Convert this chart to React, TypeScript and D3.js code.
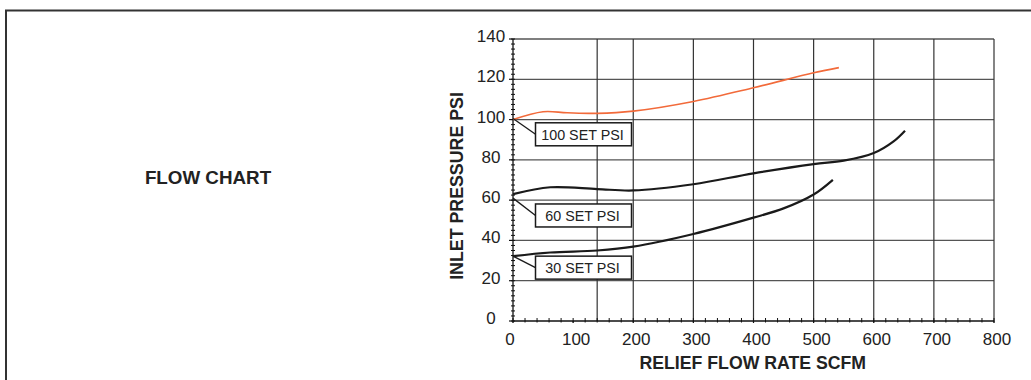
import React from "react";
import * as d3 from "d3";

const yTicks = [0, 20, 40, 60, 80, 100, 120, 140];
const xTicks = [0, 100, 200, 300, 400, 500, 600, 700, 800];
const xGrid = [140, 200, 300, 400, 500, 600, 700, 800];
const yGrid = [20, 40, 60, 80, 100, 120, 140];

const set100: [number, number][] = [
  [0, 100], [50, 103.9], [90, 103.4], [140, 103.1], [200, 104.2], [300, 109], [400, 115.8], [500, 123.2], [542, 125.8],
];
const set60: [number, number][] = [
  [0, 63], [62, 66.4], [140, 65.5], [200, 64.8], [300, 67.9], [400, 73.3], [500, 77.9], [550, 79.6], [600, 83.4], [633, 89.2], [652, 94.5],
];
const set30: [number, number][] = [
  [0, 32.2], [62, 34], [140, 35], [200, 36.9], [300, 43.2], [400, 51.3], [450, 55.9], [500, 62.8], [532, 70.1],
];

const labels = [
  { text: "100 SET PSI", anchor: 100.5, top: 98.4 },
  { text: "60 SET PSI", anchor: 61, top: 58.1 },
  { text: "30 SET PSI", anchor: 32.2, top: 32.2 },
];

export default function App() {
  const x = d3.scaleLinear().domain([0, 800]).range([513, 994]);
  const y = d3.scaleLinear().domain([0, 140]).range([321, 39]);
  const line = d3
    .line<[number, number]>()
    .x((d) => x(d[0]))
    .y((d) => y(d[1]))
    .curve(d3.curveCatmullRom.alpha(0.5));

  const xMinor = d3.range(0, 801, 20);
  const yMinor = d3.range(0, 140.1, 2.5);
  const font = "Liberation Sans, Arial, sans-serif";

  return (
    <div style={{ position: "fixed", left: 0, top: 0 }}>
      <svg width={1031} height={380} style={{ display: "block" }} fontFamily={font}>
        <rect x={0} y={0} width={1031} height={380} fill="#fff" />
        <rect x={6} y={10.5} width={1040} height={400} fill="none" stroke="#333" strokeWidth={2} />
        <text x={208} y={184} fontSize={18.8} fontWeight="bold" textAnchor="middle" fill="#222">
          FLOW CHART
        </text>

        {/* grid */}
        {yGrid.map((v) => (
          <line key={"hy" + v} x1={x(0)} x2={x(800)} y1={y(v)} y2={y(v)} stroke="#555" strokeWidth={1.3} />
        ))}
        {xGrid.map((v) => (
          <line key={"vx" + v} x1={x(v)} x2={x(v)} y1={y(0)} y2={y(140)} stroke="#333" strokeWidth={1.2} />
        ))}

        {/* axes */}
        <line x1={x(0)} x2={x(0)} y1={y(0)} y2={y(140)} stroke="#111" strokeWidth={1.3} />
        <line x1={x(0)} x2={x(800)} y1={y(0)} y2={y(0)} stroke="#111" strokeWidth={1.3} />
        {yMinor.map((v) => (
          <line key={"ym" + v} x1={x(0) - 2} x2={x(0) + 2} y1={y(v)} y2={y(v)} stroke="#111" strokeWidth={1} />
        ))}
        {yTicks.map((v) => (
          <line key={"yt" + v} x1={x(0) - 4} x2={x(0)} y1={y(v)} y2={y(v)} stroke="#111" strokeWidth={1.2} />
        ))}
        {xMinor.map((v) => (
          <line key={"xm" + v} x1={x(v)} x2={x(v)} y1={y(0) - 3} y2={y(0) + 1.5} stroke="#111" strokeWidth={1} />
        ))}
        {xTicks.map((v) => (
          <line key={"xt" + v} x1={x(v)} x2={x(v)} y1={y(0)} y2={y(0) + 2} stroke="#111" strokeWidth={1.2} />
        ))}

        {yTicks.map((v) => (
          <text key={"yl" + v} x={491} y={y(v) + 3} fontSize={17} textAnchor="middle" fill="#222">
            {v}
          </text>
        ))}
        {xTicks.map((v) => (
          <text key={"xl" + v} x={x(v) + (v === 0 ? -3 : 3)} y={345} fontSize={17} textAnchor="middle" fill="#222">
            {v}
          </text>
        ))}

        <text x={752.8} y={369} fontSize={17.7} fontWeight="bold" textAnchor="middle" fill="#222">
          RELIEF FLOW RATE SCFM
        </text>
        <text
          transform={`translate(463,186) rotate(-90)`}
          fontSize={17.8}
          fontWeight="bold"
          textAnchor="middle"
          fill="#222"
        >
          INLET PRESSURE PSI
        </text>

        {/* curves */}
        <path d={line(set100) || ""} fill="none" stroke="#f26a3a" strokeWidth={1.6} />
        <path d={line(set60) || ""} fill="none" stroke="#1a1a1a" strokeWidth={2.2} />
        <path d={line(set30) || ""} fill="none" stroke="#1a1a1a" strokeWidth={2.2} />

        {/* callouts */}
        {labels.map((l) => {
          const bx = 535.5;
          const by = y(l.top);
          const bw = 96;
          const bh = 23;
          return (
            <g key={l.text}>
              <line x1={x(0)} y1={y(l.anchor)} x2={bx} y2={by + bh / 2} stroke="#1a1a1a" strokeWidth={1.3} />
              <rect x={bx} y={by} width={bw} height={bh} fill="#fff" stroke="#1a1a1a" strokeWidth={1.5} />
              <text x={bx + bw / 2 - 1} y={by + bh / 2 + 5.5} fontSize={14.3} textAnchor="middle" fill="#222">
                {l.text}
              </text>
            </g>
          );
        })}
      </svg>
    </div>
  );
}
